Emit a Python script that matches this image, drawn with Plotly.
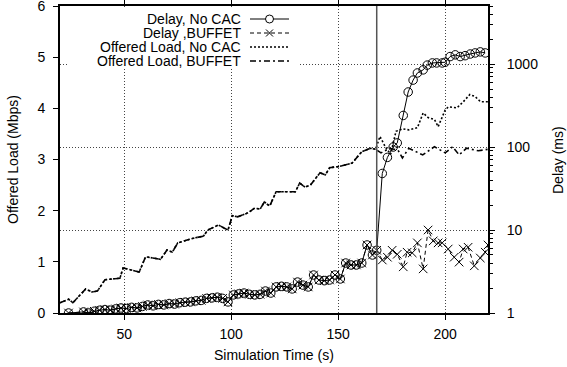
import plotly.graph_objects as go

# ---------------- data ----------------
# Offered load (Mbps), BUFFET (dash-dot)
load_time_buffet = [20, 24, 26, 32, 35, 37.5, 41, 48, 49.5, 57, 60, 67, 70, 72.5, 75, 80, 83, 87,
                    89, 94, 98.5, 100.5, 103, 108, 111, 113.5, 115.5, 118, 121, 130, 132, 134.5,
                    137, 141.5, 144, 146, 150, 156.5, 161, 165, 167.5,
                    170, 174, 178, 180, 183, 189.5, 195, 200, 203.5, 206.5, 210, 215.5, 220]
load_buffet = [0.20, 0.27, 0.20, 0.47, 0.41, 0.43, 0.65, 0.68, 0.88, 0.80, 1.10, 1.05, 1.23, 1.19,
               1.37, 1.43, 1.47, 1.50, 1.62, 1.72, 1.62, 1.90, 1.88, 1.96, 2.05, 2.03, 2.17, 2.09,
               2.37, 2.37, 2.54, 2.46, 2.50, 2.74, 2.70, 2.84, 2.86, 2.93, 3.15, 3.22, 3.20,
               3.13, 3.22, 3.18, 3.03, 3.22, 3.09, 3.25, 3.13, 3.25, 3.09, 3.22, 3.17, 3.20]

# Offered load (Mbps), No CAC (dotted) - same as BUFFET before CAC time
load_time_nocac = [20, 24, 26, 32, 35, 37.5, 41, 48, 49.5, 57, 60, 67, 70, 72.5, 75, 80, 83, 87,
                   89, 94, 98.5, 100.5, 103, 108, 111, 113.5, 115.5, 118, 121, 130, 132, 134.5,
                   137, 141.5, 144, 146, 150, 156.5, 161, 165, 167.5,
                   169.5, 172, 174.5, 177, 180, 183, 187, 189.7, 192, 195, 196.7, 200, 201.5,
                   205.5, 208.5, 211.5, 214, 216.5, 220]
load_nocac = [0.20, 0.27, 0.20, 0.47, 0.41, 0.43, 0.65, 0.68, 0.88, 0.80, 1.10, 1.05, 1.23, 1.19,
              1.37, 1.43, 1.47, 1.50, 1.62, 1.72, 1.62, 1.90, 1.88, 1.96, 2.05, 2.03, 2.17, 2.09,
              2.37, 2.37, 2.54, 2.46, 2.50, 2.74, 2.70, 2.84, 2.86, 2.93, 3.15, 3.22, 3.20,
              3.45, 3.25, 3.10, 3.55, 3.60, 3.58, 3.62, 3.91, 3.82, 3.78, 3.64, 3.97, 4.03,
              4.01, 4.13, 4.27, 4.23, 4.13, 4.13]

# Delay (ms), common part before CAC time
delay_time_pre = [24, 31, 33.5, 36, 38.5, 41, 43.5, 46, 48.5, 51, 53.5, 56, 58.5, 61, 63.5, 66,
                  68.5, 71, 73.5, 76, 78.5, 81, 83.5, 86, 88.5, 91, 93.5, 96, 98.5, 101, 103.5,
                  106, 108.5, 111, 113.5, 116, 118.5, 121, 123.5, 126, 128.5, 131, 133.5, 136,
                  138.5, 141, 143.5, 146, 148.5, 151, 153.5, 156, 158.5, 161, 163.5, 166, 168]
delay_pre = [1.0, 1.03, 1.0, 1.05, 1.08, 1.1, 1.08, 1.12, 1.15, 1.13, 1.17, 1.15, 1.2, 1.25, 1.22,
             1.27, 1.25, 1.3, 1.28, 1.33, 1.35, 1.36, 1.4, 1.42, 1.5, 1.52, 1.55, 1.5, 1.36, 1.65,
             1.7, 1.74, 1.68, 1.65, 1.68, 1.84, 1.74, 2.06, 2.1, 2.06, 1.95, 2.36, 2.17, 2.06,
             2.87, 2.5, 2.45, 2.5, 2.87, 2.57, 4.0, 3.79, 3.79, 4.0, 6.6, 5.0, 5.7]

# Delay (ms) after CAC time
delay_time_nocac_post = [170.6, 173, 175.7, 177.6, 180.4, 182.7, 185, 187, 189.7, 191.6, 194, 196,
                         198.6, 200, 202.3, 204.7, 207, 209.3, 211.7, 214, 216.4, 218.7]
delay_nocac_post = [48, 75, 100, 112, 240, 460, 640, 780, 850, 970, 1030, 1030, 1030, 1050, 1230,
                    1290, 1230, 1260, 1320, 1360, 1400, 1360]

delay_time_buffet_post = [170.6, 173, 175.2, 177.6, 180.4, 182.2, 184.6, 187, 189.7, 192, 194.4,
                          196.7, 198.6, 201.4, 204.2, 206.5, 208.4, 210.7, 213.6, 216.4, 218.7, 220]
delay_buffet_post = [4.35, 4.7, 5.7, 5.1, 3.6, 5.4, 5.3, 7.0, 3.4, 10.0, 7.4, 7.0, 7.0, 5.9, 4.7,
                     4.1, 5.9, 6.2, 3.7, 4.6, 5.4, 6.6]

cac_time = 168
x_ticks = [50, 100, 150, 200]
y_ticks = [0, 1, 2, 3, 4, 5, 6]
y2_ticks = [1, 10, 100, 1000]
y2_tick_text = ["1", "10", "100", "1000"]

legend_labels = ["Delay, No CAC", "Delay ,BUFFET", "Offered Load, No CAC", "Offered Load, BUFFET"]

# ---------------- figure ----------------
FONT = "Liberation Sans, Arial, Helvetica, sans-serif"
W, H = 567, 367
ML, MR, MT, MB = 60, 79, 6, 54
PW, PH = W - ML - MR, H - MT - MB
GRID_DASH = "1px,2px"

fig = go.Figure()

fig.add_trace(go.Scatter(x=load_time_buffet, y=load_buffet, mode="lines",
                         line=dict(color="black", width=1.6, dash="6px,3px,2px,3px"),
                         name=legend_labels[3], yaxis="y"))
fig.add_trace(go.Scatter(x=load_time_nocac, y=load_nocac, mode="lines",
                         line=dict(color="black", width=1.6, dash="2px,2px"),
                         name=legend_labels[2], yaxis="y"))
fig.add_trace(go.Scatter(x=delay_time_pre + delay_time_nocac_post, y=delay_pre + delay_nocac_post,
                         mode="lines+markers",
                         line=dict(color="black", width=1),
                         marker=dict(symbol="circle-open", size=8.5, color="black",
                                     line=dict(width=1, color="black")),
                         name=legend_labels[0], yaxis="y2"))
fig.add_trace(go.Scatter(x=delay_time_pre + delay_time_buffet_post, y=delay_pre + delay_buffet_post,
                         mode="lines+markers",
                         line=dict(color="black", width=1, dash="4px,3px"),
                         marker=dict(symbol="x-thin-open", size=8.5, color="black",
                                     line=dict(width=1, color="black")),
                         name=legend_labels[1], yaxis="y2"))


def px2paper_x(px):
    return (px - ML) / PW


def px2paper_y(py):
    return (H - MB - py) / PH


shapes = []
# vertical CAC line
shapes.append(dict(type="line", xref="x", yref="paper", x0=cac_time, x1=cac_time, y0=0, y1=1,
                   line=dict(color="#555555", width=1.5), layer="above"))
# legend background
shapes.append(dict(type="rect", xref="paper", yref="paper",
                   x0=px2paper_x(68), x1=px2paper_x(298), y0=px2paper_y(69), y1=px2paper_y(8),
                   fillcolor="white", line=dict(width=0), layer="above"))

annotations = []
row_y = [19, 33, 47, 61]
sample_x0, sample_x1 = 250, 289
sample_cx = (sample_x0 + sample_x1) / 2
dashes = ["solid", "4px,3px", "2px,2px", "6px,3px,2px,3px"]
widths = [1, 1, 1.6, 1.6]
for i, lab in enumerate(legend_labels):
    yy = px2paper_y(row_y[i])
    annotations.append(dict(text=lab, xref="paper", yref="paper", x=px2paper_x(243), y=yy,
                            xanchor="right", yanchor="middle", showarrow=False,
                            font=dict(family=FONT, size=14, color="black")))
    shapes.append(dict(type="line", xref="paper", yref="paper",
                       x0=px2paper_x(sample_x0), x1=px2paper_x(sample_x1), y0=yy, y1=yy,
                       line=dict(color="black", width=widths[i], dash=dashes[i]), layer="above"))
# legend markers
r = 4
shapes.append(dict(type="circle", xref="paper", yref="paper",
                   x0=px2paper_x(sample_cx - r), x1=px2paper_x(sample_cx + r),
                   y0=px2paper_y(row_y[0] + r), y1=px2paper_y(row_y[0] - r),
                   fillcolor="white", line=dict(color="black", width=1), layer="above"))
for sgn in (1, -1):
    shapes.append(dict(type="line", xref="paper", yref="paper",
                       x0=px2paper_x(sample_cx - 3.5), x1=px2paper_x(sample_cx + 3.5),
                       y0=px2paper_y(row_y[1] + 3.5 * sgn), y1=px2paper_y(row_y[1] - 3.5 * sgn),
                       line=dict(color="black", width=1), layer="above"))

# axis titles
annotations.append(dict(text="Simulation Time (s)", xref="paper", yref="paper",
                        x=px2paper_x(273.5), y=px2paper_y(355), xanchor="center", yanchor="middle",
                        showarrow=False, font=dict(family=FONT, size=14, color="black")))
annotations.append(dict(text="Offered Load (Mbps)", xref="paper", yref="paper",
                        x=px2paper_x(13), y=px2paper_y(160), xanchor="center", yanchor="middle",
                        textangle=-90, showarrow=False, font=dict(family=FONT, size=14, color="black")))
annotations.append(dict(text="Delay (ms)", xref="paper", yref="paper",
                        x=px2paper_x(558), y=px2paper_y(160), xanchor="center", yanchor="middle",
                        textangle=-90, showarrow=False, font=dict(family=FONT, size=14, color="black")))

fig.update_layout(
    width=W, height=H,
    margin=dict(l=ML, r=MR, t=MT, b=MB, autoexpand=False),
    paper_bgcolor="white", plot_bgcolor="white",
    showlegend=False,
    font=dict(family=FONT, size=14, color="black"),
    xaxis=dict(range=[20, 220], tickvals=x_ticks, ticks="outside", ticklen=5, tickwidth=1,
               tickcolor="black", showline=True, linewidth=2, linecolor="black", mirror="ticks",
               showgrid=True, gridcolor="#444444", griddash=GRID_DASH, gridwidth=1, zeroline=False,
               tickfont=dict(family=FONT, size=14), ticklabelstandoff=2),
    yaxis=dict(range=[0, 6], tickvals=y_ticks, ticks="outside", ticklen=5, tickwidth=1,
               tickcolor="black", showline=True, linewidth=2, linecolor="black",
               showgrid=False, zeroline=False, tickfont=dict(family=FONT, size=14),
               ticklabelstandoff=5, ticklabeloverflow="allow"),
    yaxis2=dict(type="log", range=[0, 3.699], overlaying="y", side="right",
                tickvals=y2_ticks, ticktext=y2_tick_text, ticks="outside", ticklen=5, tickwidth=1,
                tickcolor="black", showline=True, linewidth=2, linecolor="black",
                showgrid=True, gridcolor="#444444", griddash=GRID_DASH, gridwidth=1, zeroline=False,
                minor=dict(ticks="outside", ticklen=3, tickcolor="black",
                           tickvals=[2, 3, 4, 5, 6, 7, 8, 9, 20, 30, 40, 50, 60, 70, 80, 90,
                                     200, 300, 400, 500, 600, 700, 800, 900, 2000, 3000, 4000, 5000],
                           showgrid=False),
                tickfont=dict(family=FONT, size=14), ticklabelstandoff=9),
    shapes=shapes,
    annotations=annotations,
)

fig.write_html("out.html", config={"displayModeBar": False},
               post_script="document.body.style.margin='0px';")
